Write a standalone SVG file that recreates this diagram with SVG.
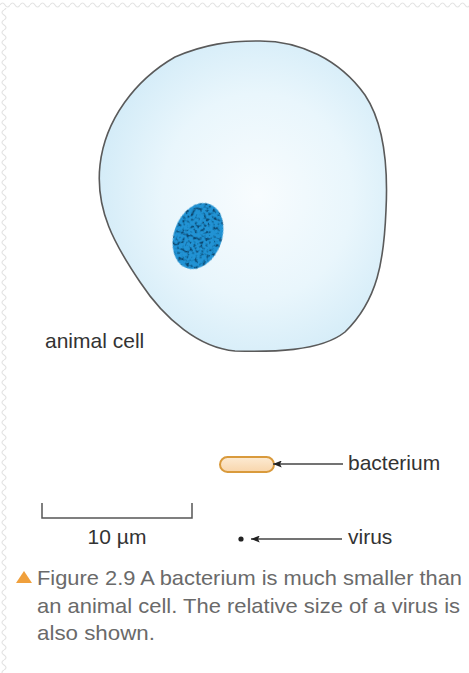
<svg xmlns="http://www.w3.org/2000/svg" width="469" height="673" viewBox="0 0 469 673">
  <style>
    .label { font-family: "Liberation Sans", Arial, sans-serif; font-size: 21px; fill: #333; }
    .caption { font-family: "Liberation Sans", Arial, sans-serif; font-size: 21px; fill: #6a6a6a; }
    .lead { stroke: #444; stroke-width: 1.3; fill: none; }
    .scale { stroke: #555; stroke-width: 1.5; fill: none; }
    .edge { stroke: #e4e4e4; stroke-width: 1.2; fill: none; }
  </style>
  <defs>
    <radialGradient id="cytoplasm" cx="0.55" cy="0.5" r="0.6">
      <stop offset="0" stop-color="#f8fcfe"/>
      <stop offset="0.55" stop-color="#e9f6fc"/>
      <stop offset="1" stop-color="#d0eaf7"/>
    </radialGradient>
    <linearGradient id="capsule" x1="0" y1="0" x2="0" y2="1">
      <stop offset="0" stop-color="#fdebd3"/>
      <stop offset="1" stop-color="#f8d5ab"/>
    </linearGradient>
    <!-- granular chromatin texture for the nucleus -->
    <filter id="mottle" x="0" y="0" width="100%" height="100%">
      <feTurbulence type="fractalNoise" baseFrequency="0.32" numOctaves="2" seed="5" result="noise"/>
      <feColorMatrix in="noise" type="matrix"
        values="0 0 0 0 0
                0 0 0 0 0
                0 0 0 0 0
                5 0 0 0 -2.5" result="mask"/>
      <feFlood flood-color="#0d4670"/>
      <feComposite in2="mask" operator="in" result="dark"/>
      <feComposite in="dark" in2="SourceAlpha" operator="in" result="spots"/>
      <feMerge>
        <feMergeNode in="SourceGraphic"/>
        <feMergeNode in="spots"/>
      </feMerge>
    </filter>
    <marker id="head" viewBox="0 0 10 8" refX="10" refY="4" markerWidth="9" markerHeight="7" orient="auto" markerUnits="userSpaceOnUse">
      <path d="M10,4 L0,0 L2,4 L0,8 Z" fill="#222"/>
    </marker>
    <pattern id="waveTop" width="10" height="8" patternUnits="userSpaceOnUse">
      <path d="M0,5 Q2.5,1 5,5 T10,5" class="edge"/>
    </pattern>
    <pattern id="waveLeft" width="8" height="10" patternUnits="userSpaceOnUse">
      <path d="M4,0 Q0,2.5 4,5 T4,10" class="edge"/>
    </pattern>
  </defs>

  <rect width="469" height="673" fill="#ffffff"/>

  <!-- torn-paper edge along top and left -->
  <rect x="0" y="0" width="469" height="8" fill="url(#waveTop)"/>
  <rect x="0" y="8" width="8" height="665" fill="url(#waveLeft)"/>

  <g id="animal-cell">
    <path d="M257,41 C300,40 340,60 365,95 C385,125 388,170 386,210 C384,260 378,300 345,332 C320,352 270,352 235,351 C200,348 165,320 140,282 C115,245 95,210 100,165 C105,120 135,80 175,57 C205,44 230,41 257,41 Z"
          fill="url(#cytoplasm)" stroke="#5a5a5a" stroke-width="1.6"/>
    <ellipse cx="198" cy="236" rx="24" ry="34" transform="rotate(20 198 236)" fill="#2393d4" filter="url(#mottle)"/>
    <text class="label" x="45" y="348">animal cell</text>
  </g>

  <g id="bacterium">
    <rect x="220" y="457" width="54" height="15" rx="7.5" fill="url(#capsule)" stroke="#d99a3c" stroke-width="2"/>
    <text class="label" x="348" y="470">bacterium</text>
  </g>

  <g id="virus">
    <circle cx="241" cy="539" r="2.6" fill="#222"/>
    <text class="label" x="348" y="544">virus</text>
  </g>

  <g id="scale-bar">
    <path class="scale" d="M42,503 V518 H192 V503"/>
    <text class="label" x="117" y="544" text-anchor="middle">10 µm</text>
  </g>

  <g id="connectors">
    <line class="lead" x1="343" y1="464" x2="273" y2="464" marker-end="url(#head)"/>
    <line class="lead" x1="342" y1="539" x2="251" y2="539" marker-end="url(#head)"/>
  </g>

  <g id="caption">
    <path d="M16,583 L24,571 L32,583 Z" fill="#f0a03c"/>
    <text class="caption" x="37" y="585" textLength="425" lengthAdjust="spacingAndGlyphs">Figure 2.9 A bacterium is much smaller than</text>
    <text class="caption" x="37" y="613" textLength="423" lengthAdjust="spacingAndGlyphs">an animal cell. The relative size of a virus is</text>
    <text class="caption" x="37" y="640" textLength="118" lengthAdjust="spacingAndGlyphs">also shown.</text>
  </g>
</svg>
